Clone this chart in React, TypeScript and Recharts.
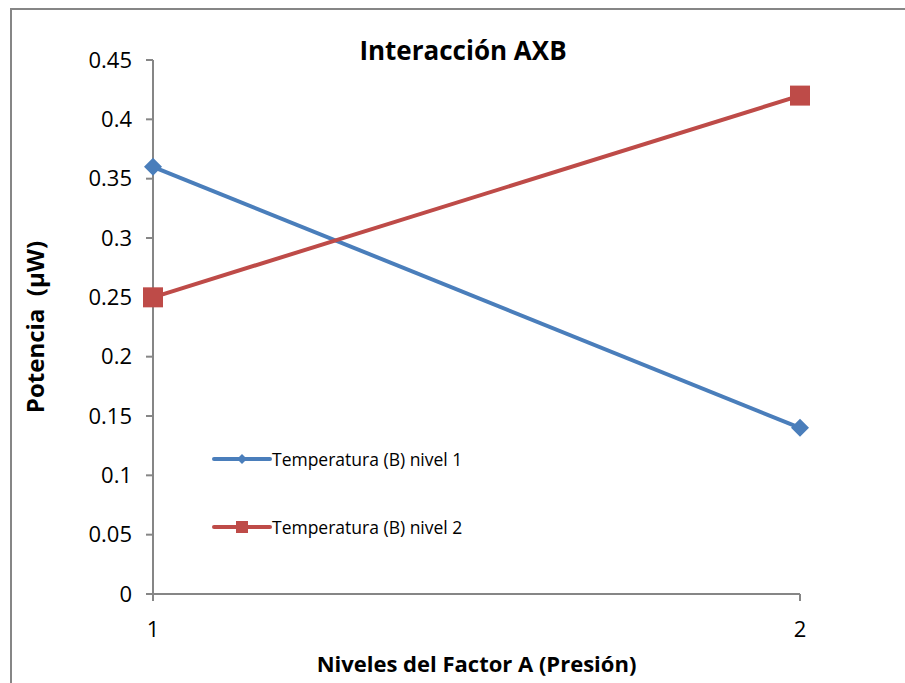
import * as React from "react";
import { Line, LineChart, XAxis, YAxis } from "recharts";

const niveles = [1, 2];
const nivel1 = [0.36, 0.14];
const nivel2 = [0.25, 0.42];
const yTicks = [0, 0.05, 0.1, 0.15, 0.2, 0.25, 0.3, 0.35, 0.4, 0.45];
const serieNames = ["Temperatura (B) nivel 1", "Temperatura (B) nivel 2"];

const data = niveles.map((nivel, i) => ({
  nivel,
  b1: nivel1[i],
  b2: nivel2[i],
}));

const BLUE = "#4A7EBB";
const RED = "#BE4B48";
const AXIS = "#868686";
const FONT = "'Open Sans', 'Noto Sans', sans-serif";

function Diamond(props: any) {
  const { cx, cy, fill, size = 9 } = props;
  if (cx == null || cy == null) return null;
  const s = size;
  return (
    <path
      d={`M${cx},${cy - s} L${cx + s},${cy} L${cx},${cy + s} L${cx - s},${cy} Z`}
      fill={fill}
    />
  );
}

function Square(props: any) {
  const { cx, cy, fill, size = 9 } = props;
  if (cx == null || cy == null) return null;
  return <rect x={cx - size} y={cy - size} width={size * 2} height={size * 2} fill={fill} />;
}

function LegendBox() {
  const colors = [BLUE, RED];
  return (
    <div
      style={{
        position: "absolute",
        left: 212,
        top: 447,
        fontFamily: FONT,
        fontSize: 17.5,
        color: "#000",
      }}
    >
      {serieNames.map((name, i) => (
        <div
          key={name}
          style={{ display: "flex", alignItems: "center", height: 24, marginBottom: i === 0 ? 44 : 0 }}
        >
          <svg width={60} height={16}>
            <line x1={2} y1={8} x2={58} y2={8} stroke={colors[i]} strokeWidth={4} strokeLinecap="round" />
            {i === 0 ? (
              <Diamond cx={30} cy={8} fill={colors[i]} size={5} />
            ) : (
              <Square cx={30} cy={8} fill={colors[i]} size={6} />
            )}
          </svg>
          <span>{name}</span>
        </div>
      ))}
    </div>
  );
}

export default function App(): JSX.Element {
  return (
    <div
      style={{
        position: "absolute",
        left: 0,
        top: 0,
        width: 905,
        height: 683,
        overflow: "hidden",
        background: "#fff",
      }}
    >
      <div
        style={{
          position: "absolute",
          left: 10,
          top: 8,
          width: 1000,
          height: 800,
          border: `2px solid ${AXIS}`,
          boxSizing: "border-box",
        }}
      />
      <div style={{ position: "absolute", left: 0, top: 0 }}>
        <LineChart
          width={905}
          height={683}
          data={data}
          margin={{ top: 60, right: 105, left: 93, bottom: 49 }}
        >
          <XAxis
            dataKey="nivel"
            type="number"
            domain={[1, 2]}
            ticks={niveles}
            height={40}
            stroke={AXIS}
            strokeWidth={2}
            tickSize={7}
            tick={{ fill: "#000", fontSize: 22, fontFamily: FONT, dy: 18 }}
            label={{
              value: "Niveles del Factor A (Presión)",
              position: "insideBottom",
              offset: -38,
              fill: "#000",
              fontSize: 22,
              fontWeight: 700,
              fontFamily: FONT,
            }}
          />
          <YAxis
            domain={[0, 0.45]}
            ticks={yTicks}
            width={60}
            stroke={AXIS}
            strokeWidth={2}
            tickSize={7}
            tick={{ fill: "#000", fontSize: 22, fontFamily: FONT, dx: -12 }}
            label={{
              value: "Potencia\u00a0\u00a0(µW)",
              angle: -90,
              position: "insideLeft",
              offset: -58,
              fill: "#000",
              fontSize: 24,
              fontWeight: 700,
              fontFamily: FONT,
              style: { textAnchor: "middle" },
            }}
          />
          <Line
            dataKey="b1"
            name={serieNames[0]}
            stroke={BLUE}
            strokeWidth={4}
            dot={<Diamond fill={BLUE} size={9} />}
            activeDot={false}
            isAnimationActive={false}
          />
          <Line
            dataKey="b2"
            name={serieNames[1]}
            stroke={RED}
            strokeWidth={4}
            dot={<Square fill={RED} size={10} />}
            activeDot={false}
            isAnimationActive={false}
          />
        </LineChart>
      </div>
      <div
        style={{
          position: "absolute",
          left: 0,
          top: 32,
          width: 926,
          textAlign: "center",
          fontFamily: FONT,
          fontWeight: 700,
          fontSize: 26,
        }}
      >
        Interacción AXB
      </div>
      <LegendBox />
    </div>
  );
}
